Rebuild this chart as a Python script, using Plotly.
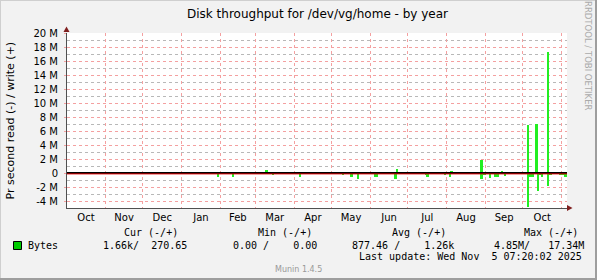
import plotly.graph_objects as go

# ---------------- data (bytes per second, daily averages) ----------------
write_dates = ["2025-03-09", "2025-03-10", "2025-06-22", "2025-08-04", "2025-08-05",
               "2025-08-28", "2025-08-29", "2025-09-14", "2025-10-05", "2025-10-11",
               "2025-10-12", "2025-10-21"]
write_vals = [0.4e6, 0.4e6, 0.55e6, 0.25e6, 0.25e6,
              1.85e6, 1.85e6, 0.25e6, 6.9e6, 7.0e6,
              7.0e6, 17.34e6]

read_dates = ["2025-01-30", "2025-02-11", "2025-03-15", "2025-04-05", "2025-05-10",
              "2025-05-16", "2025-05-17", "2025-05-22", "2025-06-04", "2025-06-05",
              "2025-06-06", "2025-06-20", "2025-06-21", "2025-07-15", "2025-07-16",
              "2025-07-17", "2025-07-30", "2025-08-03", "2025-08-28", "2025-08-29",
              "2025-08-30", "2025-08-31", "2025-09-04", "2025-09-08", "2025-09-09",
              "2025-09-10", "2025-09-11", "2025-09-16", "2025-10-05", "2025-10-06",
              "2025-10-07", "2025-10-08", "2025-10-09", "2025-10-13", "2025-10-14",
              "2025-10-16", "2025-10-21", "2025-10-22", "2025-10-23", "2025-10-30",
              "2025-10-31", "2025-11-01", "2025-11-02", "2025-11-03", "2025-11-04"]
read_vals = [-0.55e6, -0.6e6, -0.2e6, -0.55e6, -0.25e6,
             -0.5e6, -0.5e6, -0.9e6, -0.5e6, -0.5e6,
             -0.5e6, -0.85e6, -0.85e6, -0.2e6, -0.5e6,
             -0.5e6, -0.3e6, -0.6e6, -0.85e6, -0.85e6,
             -0.2e6, -0.2e6, -0.7e6, -0.55e6, -0.55e6,
             -0.55e6, -0.55e6, -0.4e6, -4.85e6, -0.5e6,
             -0.5e6, -0.5e6, -0.5e6, -2.5e6, -0.3e6,
             -0.5e6, -1.8e6, -0.2e6, -0.2e6, -0.2e6,
             -0.2e6, -0.3e6, -0.3e6, -0.55e6, -0.55e6]

y_tickvals = [20e6, 18e6, 16e6, 14e6, 12e6, 10e6, 8e6, 6e6, 4e6, 2e6, 0, -2e6, -4e6]
y_ticktext = ["20 M", "18 M", "16 M", "14 M", "12 M", "10 M", "8 M", "6 M", "4 M",
              "2 M", "0", "-2 M", "-4 M"]

legend_headers = ["Cur (-/+)", "Min (-/+)", "Avg (-/+)", "Max (-/+)"]
legend_values = ["1.66k/  270.65", "0.00 /    0.00", "877.46 /    1.26k", "4.85M/   17.34M"]
series_name = "Bytes"
last_update = "Last update: Wed Nov  5 07:20:02 2025"

x_start = "2024-10-01 07:20"
x_end = "2025-11-05 07:20"

# ---------------- layout geometry ----------------
W, H = 597, 280
L, R, T, B = 67, 567, 33, 208
GREEN = "#22EE22"
BG = "#F2F2F2"


def px(x):
    return (x - L) / (R - L)


def py(y):
    return (B - y) / (B - T)


def mono(s):
    return s.replace(" ", "\u00a0")


day_ms = 86400000

fig = go.Figure()
fig.add_trace(go.Bar(x=[d + " 12:00" for d in write_dates], y=write_vals, width=day_ms,
                     marker=dict(color=GREEN, line=dict(width=0)), name="write"))
fig.add_trace(go.Bar(x=[d + " 12:00" for d in read_dates], y=read_vals, width=day_ms,
                     marker=dict(color=GREEN, line=dict(width=0)), name="read"))

MGRID = "#F4A0A0"
GRID = "#B8B8B8"

fig.update_layout(
    width=W, height=H,
    margin=dict(l=L, r=W - R, t=T, b=H - B, pad=0),
    paper_bgcolor=BG, plot_bgcolor="#FFFFFF",
    showlegend=False, barmode="overlay", bargap=0,
    font=dict(family="DejaVu Sans", size=10, color="#000000"),
    xaxis=dict(
        type="date", range=[x_start, x_end],
        tick0="2024-10-01", dtick="M1", ticklabelmode="period", tickformat="%b",
        showgrid=True, gridcolor=MGRID, griddash="dot", gridwidth=1,
        ticks="", showline=True, linecolor="#505050", linewidth=1,
        zeroline=False, tickfont=dict(size=10, family="DejaVu Sans"),
        fixedrange=True,
    ),
    yaxis=dict(
        range=[-5e6, 20e6], tickmode="array", tickvals=y_tickvals, ticktext=y_ticktext,
        showgrid=True, gridcolor=MGRID, griddash="dot", gridwidth=1,
        minor=dict(tickmode="linear", tick0=1e6, dtick=2e6, showgrid=True,
                   gridcolor=GRID, griddash="dot", gridwidth=1),
        ticks="outside", ticklen=2, tickcolor=MGRID, ticklabelstandoff=4,
        showline=True, linecolor="#505050", linewidth=1,
        zeroline=False, tickfont=dict(size=10, family="DejaVu Sans"),
        fixedrange=True,
    ),
)

shapes = []
# zero rules
shapes.append(dict(type="line", xref="paper", yref="y", x0=0, x1=1, y0=0, y1=0,
                   line=dict(color="#000000", width=2), layer="above"))
shapes.append(dict(type="line", xref="paper", yref="paper", x0=0, x1=1,
                   y0=py(173.9), y1=py(173.9), line=dict(color="#E00000", width=1), layer="above"))
# arrows
shapes.append(dict(type="path", xref="paper", yref="paper",
                   path=f"M {px(63.5)},{py(32)} L {px(69.5)},{py(32)} L {px(66.5)},{py(26.5)} Z",
                   fillcolor="#801F1F", line=dict(width=0), layer="above"))
shapes.append(dict(type="path", xref="paper", yref="paper",
                   path=f"M {px(567)},{py(205)} L {px(567)},{py(211)} L {px(572.5)},{py(208)} Z",
                   fillcolor="#801F1F", line=dict(width=0), layer="above"))
# 3D border
shapes.append(dict(type="line", xref="paper", yref="paper", x0=px(0), x1=px(W), y0=py(0.5), y1=py(0.5),
                   line=dict(color="#CFCFCF", width=1)))
shapes.append(dict(type="line", xref="paper", yref="paper", x0=px(0.5), x1=px(0.5), y0=py(0), y1=py(H),
                   line=dict(color="#CFCFCF", width=1)))
shapes.append(dict(type="line", xref="paper", yref="paper", x0=px(0), x1=px(W), y0=py(H - 1), y1=py(H - 1),
                   line=dict(color="#9E9E9E", width=2)))
shapes.append(dict(type="line", xref="paper", yref="paper", x0=px(W - 1), x1=px(W - 1), y0=py(0), y1=py(H),
                   line=dict(color="#9E9E9E", width=2)))
# legend swatch
shapes.append(dict(type="rect", xref="paper", yref="paper", x0=px(13.5), x1=px(21.5),
                   y0=py(241.5), y1=py(249.5), fillcolor="#00CC00",
                   line=dict(color="#000000", width=1)))
fig.update_layout(shapes=shapes)

ann = []


def text(x, y, s, size=10, family="DejaVu Sans Mono", color="#000000", xanchor="left",
         angle=0):
    ann.append(dict(x=px(x), y=py(y), xref="paper", yref="paper", text=s, showarrow=False,
                    xanchor=xanchor, yanchor="middle", borderpad=0, textangle=angle,
                    font=dict(size=size, family=family, color=color)))


text(317, 14, "Disk throughput for /dev/vg/home - by year", size=12,
     family="DejaVu Sans", xanchor="center")
text(10, 120.5, "Pr second read (-) / write (+)", size=11, family="DejaVu Sans",
     xanchor="center", angle=-90)
text(588, 56, "RRDTOOL / TOBI OETIKER", size=8.5, family="DejaVu Sans", color="#AAAAAA",
     xanchor="center", angle=90)

header_x = [123, 257, 390.7, 523]
value_x = [101.7, 231.7, 350.7, 492.7]
for hx, h in zip(header_x, legend_headers):
    text(hx, 232, mono(h))
text(26.7, 245, mono(series_name))
for vx, v in zip(value_x, legend_values):
    text(vx, 245, mono(v))
text(583.3, 256.5, mono(last_update), xanchor="right")
text(298.5, 269, "Munin 1.4.5", size=8, family="DejaVu Sans", color="#999999",
     xanchor="center")

fig.update_layout(annotations=ann)
fig.write_html("out.html")
